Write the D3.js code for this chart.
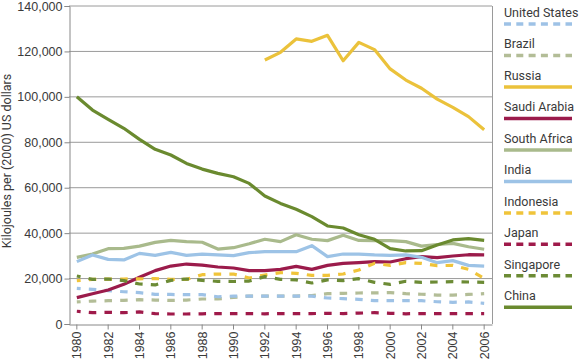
<!DOCTYPE html>
<html><head><meta charset="utf-8">
<script src="https://cdn.jsdelivr.net/npm/d3@7"></script>
<style>
html,body{margin:0;padding:0;background:#fff;}
svg{display:block;font-family:Roboto,"DejaVu Sans",sans-serif;}
</style></head>
<body><svg id="c" width="580" height="360"></svg>
<script>
const years = d3.range(1980, 2007);
const yTicks = [0,20000,40000,60000,80000,100000,120000,140000];
const xTickYears = d3.range(1980, 2007, 2);

const unitedStates = [15700,15250,14700,14200,13800,13050,13000,12900,12900,12000,12300,12300,12300,12300,12300,12300,11450,11150,10850,10270,10250,10250,10250,9800,9550,9700,9100];
const brazil = [9700,10100,10250,10400,10700,10550,10400,10550,11000,11000,11700,12300,12300,12300,12300,12500,13350,13500,13650,13700,13800,13350,13100,12750,12700,13000,13350];
const russia = [null,null,null,null,null,null,null,null,null,null,null,null,116200,119600,125500,124450,127100,115900,124000,120800,112300,107400,103800,99000,95400,91300,85500];
const saudiArabia = [11600,13350,14950,17450,20550,23500,25500,26400,25900,25100,24650,23500,23500,24070,25400,24070,25800,26700,27000,27450,27300,28750,29650,29200,29950,30500,30400];
const southAfrica = [29350,30800,33150,33300,34300,35950,36800,36250,36000,33000,33600,35350,37300,36250,39300,37300,36700,39050,36800,36700,36700,36250,34300,35000,35500,34000,32900];
const india = [27450,30400,28450,28200,31100,30200,31550,30200,30800,30400,30100,31400,31850,31850,31850,34500,29650,30800,30800,30400,30200,30400,29350,27000,27900,25800,25500];
const indonesia = [19100,19650,19800,19800,19900,20000,19650,19650,21700,22000,22000,20250,21570,22600,22300,21400,21400,22000,23800,26700,25800,27000,26700,25700,25800,24070,20100];
const japan = [5600,5000,5150,5000,5300,4550,4400,4400,4500,4600,4600,4600,4500,4600,4600,4600,4700,4600,4800,5000,4700,4500,4600,4600,4600,4600,4600];
const singapore = [21130,19650,19800,19100,17600,17200,19200,19800,19200,18800,18700,18900,20850,19650,19400,18050,19400,19100,19950,18350,17450,18800,18350,18500,18650,18500,18350];
const china = [100070,94200,90100,86150,81300,76900,74400,70700,68200,66300,64800,61900,56350,53100,50500,47250,43150,42260,39300,37300,33200,32150,32300,34800,37000,37560,36850];

const seriesNames = ["United States","Brazil","Russia","Saudi Arabia","South Africa","India","Indonesia","Japan","Singapore","China"];
const seriesValues = [unitedStates,brazil,russia,saudiArabia,southAfrica,india,indonesia,japan,singapore,china];
const seriesColors = ["#9ec2e6","#b3bd97","#ebc23b","#9b1b4b","#a9ba8c","#9dc3e6","#f0c43a","#9f1a4a","#6c8b35","#6a8a2f"];
const seriesDashed = [true,true,false,false,false,false,true,true,true,false];
const drawOrder = [1,0,2,3,4,5,6,7,8,9];

const svg = d3.select("#c");
const L = 69, R = 492, T = 6, B = 324;
const x = d3.scaleBand().domain(years).range([L, R]).padding(0);
const xc = yr => x(yr) + x.bandwidth()/2;
const y = d3.scaleLinear().domain([0,140000]).range([B, T]);

// gridlines
svg.append("g").selectAll("line").data(yTicks.filter(v=>v>0)).join("line")
  .attr("x1", L).attr("x2", R).attr("y1", d=>y(d)).attr("y2", d=>y(d))
  .attr("stroke", "#9a9a9a").attr("stroke-width", 1);
// right border
svg.append("line").attr("x1", R+0.5).attr("x2", R+0.5).attr("y1", T).attr("y2", B)
  .attr("stroke", "#9a9a9a").attr("stroke-width", 1);

// y axis
const yAxis = svg.append("g").attr("transform", `translate(${L+0.5},0)`)
  .call(d3.axisLeft(y).tickValues(yTicks).tickSize(5).tickPadding(2).tickFormat(d3.format(",")));
yAxis.select(".domain").attr("stroke", "#888");
yAxis.selectAll(".tick line").attr("stroke", "#888");
yAxis.selectAll("text").attr("font-size", 12.5).attr("fill", "#3a3a3a");

// x axis
const xAxis = svg.append("g").attr("transform", `translate(0,${B+0.5})`)
  .call(d3.axisBottom(x).tickValues(xTickYears).tickSize(5).tickSizeOuter(0).tickFormat(d=>String(d)));
xAxis.select(".domain").attr("stroke", "#888");
xAxis.selectAll(".tick line").attr("stroke", "#888");
xAxis.selectAll("text").attr("font-size", 12.5).attr("fill", "#3a3a3a")
  .attr("transform", "rotate(-90)").attr("text-anchor", "end")
  .attr("x", -7).attr("y", 0).attr("dy", "0.35em");

// y title
svg.append("text").attr("transform", "translate(11,161) rotate(-90)")
  .attr("text-anchor", "middle").attr("font-size", 12.5).attr("fill", "#3a3a3a")
  .text("Kilojoules per (2000) US dollars");

// lines
const line = d3.line().defined(d=>d[1]!=null).x(d=>xc(d[0])).y(d=>y(d[1]));
drawOrder.forEach(i => {
  const pts = years.map((yr,k)=>[yr, seriesValues[i][k]]);
  svg.append("path").attr("d", line(pts)).attr("fill", "none")
    .attr("stroke", seriesColors[i]).attr("stroke-width", 3.2)
    .attr("stroke-linejoin", "round")
    .attr("stroke-dasharray", seriesDashed[i] ? "7.5,8.2" : null)
    .attr("stroke-dashoffset", seriesDashed[i] ? 3.7 : null);
});

// legend
const lg = svg.append("g");
seriesNames.forEach((n,i) => {
  const ty = 17 + i*31.48;
  lg.append("text").attr("x", 504).attr("y", ty).attr("font-size", 12.5).attr("fill", "#3a3a3a").text(n);
  lg.append("line").attr("x1", 504).attr("x2", 572).attr("y1", ty+7).attr("y2", ty+7)
    .attr("stroke", seriesColors[i]).attr("stroke-width", 3.5)
    .attr("stroke-dasharray", seriesDashed[i] ? "7,5.3" : null);
});
</script></body></html>
